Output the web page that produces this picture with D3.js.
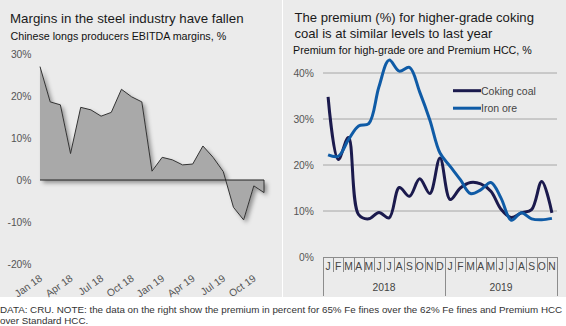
<!DOCTYPE html>
<html>
<head>
<meta charset="utf-8">
<script src="https://cdn.jsdelivr.net/npm/d3@7/dist/d3.min.js"></script>
<style>
  html, body { margin: 0; padding: 0; background: #fff; }
  svg { display: block; font-family: "Liberation Sans", Arial, sans-serif; }
</style>
</head>
<body>
<svg id="chart" width="566" height="326"></svg>
<script>
// Monthly data, Jan 2018 – Nov 2019
const months = ["Jan 18","Feb 18","Mar 18","Apr 18","May 18","Jun 18","Jul 18","Aug 18","Sep 18","Oct 18","Nov 18","Dec 18",
                "Jan 19","Feb 19","Mar 19","Apr 19","May 19","Jun 19","Jul 19","Aug 19","Sep 19","Oct 19","Nov 19"];
const monthLetters = ["J","F","M","A","M","J","J","A","S","O","N","D","J","F","M","A","M","J","J","A","S","O","N"];
const years = ["2018", "2019"];

// EBITDA margins of Chinese longs producers, %
const ebitdaMargin = [27, 18.6, 17.9, 6.3, 17.3, 16.7, 15.2, 16.1, 21.6, 19.8, 18.6, 2.1,
                      5.4, 4.8, 3.6, 3.8, 8.1, 5.4, 2.0, -6.5, -9.5, -1.4, -3.0];
const leftTicks = [30, 20, 10, 0, -10, -20];
const leftMonthTicks = ["Jan 18","Apr 18","Jul 18","Oct 18","Jan 19","Apr 19","Jul 19","Oct 19"];

// Premiums, %
const cokingCoal = [34.8, 21.2, 26.0, 9.2, 8.3, 9.7, 8.5, 15.1, 13.2, 17.0, 13.8, 21.5,
                    12.5, 15.0, 16.2, 15.9, 14.3, 10.4, 8.6, 9.6, 10.3, 16.4, 9.6];
const ironOre = [22.2, 21.9, 25.5, 28.5, 29.0, 37.0, 42.8, 40.4, 41.2, 35.9, 29.8, 22.6,
                 19.7, 16.8, 13.8, 14.6, 16.2, 12.8, 8.0, 9.6, 8.3, 8.1, 8.4];
const rightTicks = [0, 10, 20, 30, 40];
const seriesNames = ["Coking coal", "Iron ore"];
const seriesColors = ["#1b1a4d", "#0f5ba6"];

const svg = d3.select("#chart");
const panelFill = "#ebebeb";

// Panels
svg.append("rect").attr("x", 0).attr("y", 0).attr("width", 282).attr("height", 297).attr("fill", panelFill);
svg.append("rect").attr("x", 283).attr("y", 0).attr("width", 283).attr("height", 297).attr("fill", panelFill);

// Drop shadow for the margin area
const defs = svg.append("defs");
const shadow = defs.append("filter").attr("id", "shadow")
  .attr("x", "-10%").attr("y", "-10%").attr("width", "130%").attr("height", "130%");
shadow.append("feDropShadow").attr("dx", 3).attr("dy", 3).attr("stdDeviation", 2)
  .attr("flood-color", "#000").attr("flood-opacity", 0.38);

// ---------- Left chart ----------
const L = svg.append("g");
L.append("text").attr("x", 10).attr("y", 22.5).attr("font-size", 13.3).attr("fill", "#1a1a1a")
  .text("Margins in the steel industry have fallen");
L.append("text").attr("x", 10.5).attr("y", 40).attr("font-size", 10.7).attr("fill", "#111")
  .text("Chinese longs producers EBITDA margins, %");

const xL = d3.scaleLinear().domain([0, months.length - 1]).range([40, 264]);
const yL = d3.scaleLinear().domain([-20, 30]).range([264, 54]);

L.selectAll(".ylab").data(leftTicks).join("text")
  .attr("x", 31.5).attr("y", d => yL(d) + 3.6).attr("text-anchor", "end")
  .attr("font-size", 10.3).attr("fill", "#555").text(d => d + "%");

const area = d3.area().x((d, i) => xL(i)).y0(yL(0)).y1(d => yL(d));
L.append("path").datum(ebitdaMargin).attr("d", area)
  .attr("fill", "#a9a9a9").attr("filter", "url(#shadow)");
L.append("path").datum(ebitdaMargin)
  .attr("d", d3.line().x((d, i) => xL(i)).y(d => yL(d)))
  .attr("fill", "none").attr("stroke", "#333").attr("stroke-width", 1);
// closing edge at the last month and the zero line
const lastI = ebitdaMargin.length - 1;
L.append("line").attr("x1", xL(lastI)).attr("x2", xL(lastI))
  .attr("y1", yL(ebitdaMargin[lastI])).attr("y2", yL(0)).attr("stroke", "#333");
L.append("line").attr("x1", xL(0)).attr("x2", xL(lastI))
  .attr("y1", yL(0)).attr("y2", yL(0)).attr("stroke", "#222").attr("stroke-width", 1);

L.selectAll(".xlab").data(leftMonthTicks).join("text")
  .attr("transform", d => `translate(${xL(months.indexOf(d)) + 3},${280}) rotate(-35)`)
  .attr("text-anchor", "end").attr("font-size", 10.3).attr("fill", "#555").text(d => d);

// ---------- Right chart ----------
const R = svg.append("g");
R.append("text").attr("x", 294.5).attr("y", 22).attr("font-size", 13.1).attr("fill", "#1a1a1a")
  .text("The premium (%) for higher-grade coking");
R.append("text").attr("x", 294.5).attr("y", 37.5).attr("font-size", 13.1).attr("fill", "#1a1a1a")
  .text("coal is at similar levels to last year");
R.append("text").attr("x", 293).attr("y", 54).attr("font-size", 10.7).attr("fill", "#111")
  .text("Premium for high-grade ore and Premium HCC, %");

const xR = d3.scaleBand().domain(d3.range(months.length)).range([323, 557]);
const yR = d3.scaleLinear().domain([0, 40]).range([257, 73]);

R.selectAll(".grid").data(rightTicks.filter(d => d > 0)).join("line")
  .attr("x1", 323).attr("x2", 557).attr("y1", d => yR(d)).attr("y2", d => yR(d))
  .attr("stroke", "#a6a6a6").attr("stroke-width", 1);
R.selectAll(".ylab").data(rightTicks).join("text")
  .attr("x", 314).attr("y", d => yR(d) + 3.6).attr("text-anchor", "end")
  .attr("font-size", 10.3).attr("fill", "#555").text(d => d + "%");

// category axis: months grouped by year
const axisCol = "#8c8c8c";
R.append("line").attr("x1", 323).attr("x2", 557).attr("y1", yR(0) + 0.5).attr("y2", yR(0) + 0.5)
  .attr("stroke", axisCol);
const bounds = d3.range(months.length + 1);
R.selectAll(".sep").data(bounds).join("line")
  .attr("x1", i => Math.round(i < months.length ? xR(i) : xR.range()[1]) + 0.5)
  .attr("x2", i => Math.round(i < months.length ? xR(i) : xR.range()[1]) + 0.5)
  .attr("y1", yR(0))
  .attr("y2", i => (i === 0 || i === 12 || i === months.length) ? 296 : 272)
  .attr("stroke", axisCol);
R.selectAll(".mlab").data(monthLetters).join("text")
  .attr("x", (d, i) => xR(i) + xR.bandwidth() / 2).attr("y", 269.5)
  .attr("text-anchor", "middle").attr("font-size", 10.3).attr("fill", "#444").text(d => d);
R.selectAll(".year").data(years).join("text")
  .attr("x", (d, i) => i === 0 ? (xR(0) + xR(12)) / 2 : (xR(12) + xR.range()[1]) / 2)
  .attr("y", 291).attr("text-anchor", "middle").attr("font-size", 10.3).attr("fill", "#444")
  .text(d => d);

const lineR = d3.line().x((d, i) => xR(i) + xR.bandwidth() / 2).y(d => yR(d))
  .curve(d3.curveCatmullRom.alpha(0.5));
[cokingCoal, ironOre].forEach((s, k) => {
  R.append("path").datum(s).attr("d", lineR).attr("fill", "none")
    .attr("stroke", seriesColors[k]).attr("stroke-width", 3).attr("stroke-linejoin", "round");
});

// legend
seriesNames.forEach((n, k) => {
  const y = 90.7 + k * 17.5;
  R.append("line").attr("x1", 453).attr("x2", 481).attr("y1", y).attr("y2", y)
    .attr("stroke", seriesColors[k]).attr("stroke-width", 3);
  R.append("text").attr("x", 481).attr("y", y + 3.8).attr("font-size", 10.5).attr("fill", "#444").text(n);
});

// ---------- Footnote ----------
svg.append("text").attr("x", 0).attr("y", 312.5).attr("font-size", 9.8).attr("fill", "#333")
  .text("DATA: CRU. NOTE: the data on the right show the premium in percent for 65% Fe fines over the 62% Fe fines and Premium HCC");
svg.append("text").attr("x", 0).attr("y", 323.5).attr("font-size", 9.8).attr("fill", "#333")
  .text("over Standard HCC.");
</script>
</body>
</html>
